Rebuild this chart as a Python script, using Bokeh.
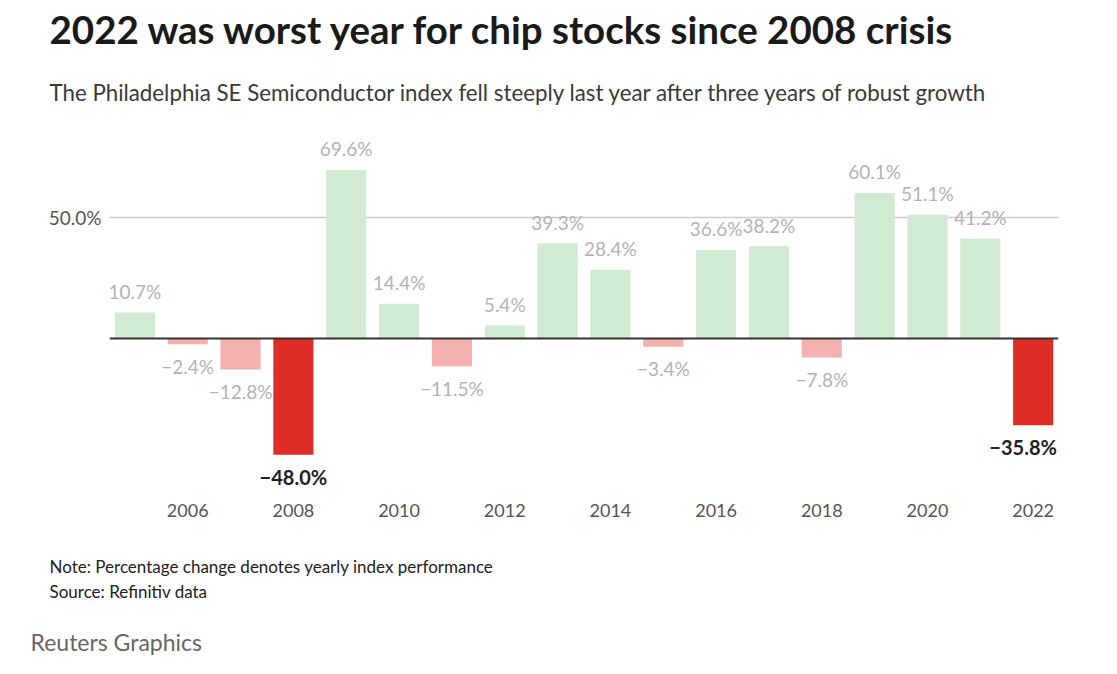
from bokeh.plotting import figure
from bokeh.models import ColumnDataSource, Span, Title, FixedTicker, Range1d, LabelSet
from bokeh.core.properties import value
from bokeh.embed import file_html
from bokeh.resources import INLINE

# ---- data ----
years = list(range(2005, 2023))
changes = [10.7, -2.4, -12.8, -48.0, 69.6, 14.4, -11.5, 5.4, 39.3, 28.4,
           -3.4, 36.6, 38.2, -7.8, 60.1, 51.1, 41.2, -35.8]
highlight_years = [2008, 2022]
year_ticks = [2006, 2008, 2010, 2012, 2014, 2016, 2018, 2020, 2022]
y_ticks = [50]
y_tick_labels = {50: "50.0%"}

title_text = "2022 was worst year for chip stocks since 2008 crisis"
subtitle_text = ("The Philadelphia SE Semiconductor index fell steeply last year "
                 "after three years of robust growth")
note_text = "Note: Percentage change denotes yearly index performance"
source_text = "Source: Refinitiv data"
credit_text = "Reuters Graphics"

FONT = "Lato"
GREEN = "#d0ebd1"
PINK = "#f5b0b0"
RED = "#de2d27"

colors = []
for yr, v in zip(years, changes):
    if yr in highlight_years:
        colors.append(RED)
    elif v >= 0:
        colors.append(GREEN)
    else:
        colors.append(PINK)

def fmt(v):
    return f"{v:.1f}%".replace("-", "\u2212")

bars = ColumnDataSource(dict(x=years, top=changes, color=colors))

def subset(cond):
    xs = [y for y, v in zip(years, changes) if cond(y, v)]
    vs = [v for y, v in zip(years, changes) if cond(y, v)]
    # the last label is nudged left so it stays inside the plot edge
    dx = [-10 if y == years[-1] else 0 for y in xs]
    return ColumnDataSource(dict(x=xs, y=vs, t=[fmt(v) for v in vs], dx=dx))

norm_pos = subset(lambda y, v: y not in highlight_years and v >= 0)
norm_neg = subset(lambda y, v: y not in highlight_years and v < 0)
hi_src = subset(lambda y, v: y in highlight_years)

p = figure(frame_width=949, frame_height=360,
           x_range=Range1d(2004.52, 2022.48), y_range=Range1d(-63.2, 85.5),
           output_backend="svg", toolbar_location=None, title=None,
           min_border_left=109, min_border_right=40, min_border_top=0,
           min_border_bottom=0, background_fill_color="white",
           border_fill_color="white")
p.outline_line_color = None

p.vbar(x="x", top="top", bottom=0, width=0.76, fill_color="color",
       line_color=None, source=bars)

p.add_layout(Span(location=0, dimension="width", line_color="#333333",
                  line_width=2))

p.add_layout(LabelSet(x="x", y="y", text="t", source=norm_pos, y_offset=21,
                      text_align="center", text_baseline="middle",
                      text_color="#b3b3b3", text_font=value(FONT),
                      text_font_size="19px"))
p.add_layout(LabelSet(x="x", y="y", text="t", source=norm_neg, y_offset=-22,
                      text_align="center", text_baseline="middle",
                      text_color="#b3b3b3", text_font=value(FONT),
                      text_font_size="19px"))
p.add_layout(LabelSet(x="x", y="y", text="t", source=hi_src, y_offset=-22,
                      x_offset="dx",
                      text_align="center", text_baseline="middle",
                      text_color="#222222", text_font=value(FONT),
                      text_font_size="20px", text_font_style="bold"))

# axes
p.xaxis.ticker = FixedTicker(ticks=year_ticks)
p.xaxis.axis_line_color = None
p.xaxis.major_tick_line_color = None
p.xaxis.minor_tick_line_color = None
p.xaxis.major_label_standoff = 6
p.xaxis.major_label_text_font = FONT
p.xaxis.major_label_text_font_size = "18px"
p.xaxis.major_label_text_color = "#555555"

p.yaxis.ticker = FixedTicker(ticks=y_ticks)
p.yaxis.major_label_overrides = y_tick_labels
p.yaxis.axis_line_color = None
p.yaxis.major_tick_line_color = None
p.yaxis.minor_tick_line_color = None
p.yaxis.major_label_standoff = 2
p.yaxis.major_label_text_font = FONT
p.yaxis.major_label_text_font_size = "19px"
p.yaxis.major_label_text_color = "#555555"

p.xgrid.grid_line_color = None
p.ygrid.ticker = FixedTicker(ticks=y_ticks)
p.ygrid.grid_line_color = "#cccccc"
p.ygrid.grid_line_width = 1.5

# titles (first added is closest to the plot)
p.add_layout(Title(text=subtitle_text, text_font=FONT, text_font_size="22.3px",
                   text_font_style="normal", text_color="#3a3a3a",
                   align="left", offset=-60, standoff=52), "above")
p.add_layout(Title(text=title_text, text_font=FONT, text_font_size="38.5px",
                   text_font_style="bold", text_color="#1a1a1a",
                   align="left", offset=-60, standoff=-2), "above")
p.add_layout(Title(text=" ", text_font=FONT, text_font_size="1px",
                   align="left", offset=-60, standoff=1), "above")

p.add_layout(Title(text=" ", text_font=FONT, text_font_size="1px",
                   align="left", offset=-60, standoff=31), "below")
p.add_layout(Title(text=note_text, text_font=FONT, text_font_size="17px",
                   text_font_style="normal", text_color="#222222",
                   align="left", offset=-60, standoff=0), "below")
p.add_layout(Title(text=source_text, text_font=FONT, text_font_size="17px",
                   text_font_style="normal", text_color="#222222",
                   align="left", offset=-60, standoff=4), "below")
p.add_layout(Title(text=credit_text, text_font=FONT, text_font_size="23px",
                   text_font_style="normal", text_color="#666666",
                   align="left", offset=-79, standoff=45), "below")

open("out.html", "w").write(file_html(p, INLINE))
